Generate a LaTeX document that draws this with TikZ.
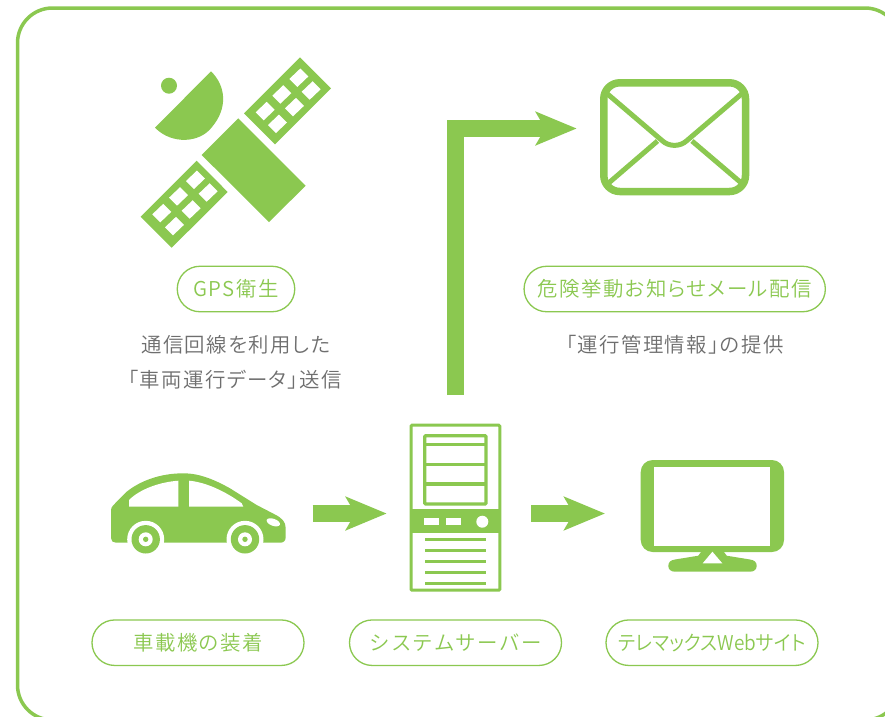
\documentclass[tikz,border=0pt]{standalone}
\usepackage{fontspec}
\usetikzlibrary{arrows.meta}
\newfontfamily\jpfont[RawFeature=+palt,LetterSpace=7]{Noto Sans CJK JP DemiLight}
\newfontfamily\jpwide[LetterSpace=7]{Noto Sans CJK JP DemiLight}
\newfontfamily\jptight[RawFeature=+palt,LetterSpace=0]{Noto Sans CJK JP DemiLight}
\definecolor{lime}{HTML}{8BC850}
\definecolor{greytext}{HTML}{6E6E6E}
\newcommand{\panelwin}[2]{\fill[white] (#1,#2) -- ++(11,-10.5) -- ++(8,8) -- ++(-11,10.5) -- cycle;}
\tikzset{
  pill/.style={draw=lime,line width=1.3pt,rounded corners=22.7pt,minimum height=45.5pt,inner sep=0pt,text=lime,font=\jpfont\fontsize{20.4}{24}\selectfont},
  caption/.style={inner sep=0pt,text=greytext,font=\jpfont\fontsize{20.4}{24}\selectfont},
  bigarrow/.style={draw=lime,line width=16.5pt,-{Stealth[length=40.7pt,width=33pt,inset=9.2pt]}},
  icon/.style={fill=lime,draw=none},
  iconline/.style={draw=lime,line width=3.3pt}
}
\begin{document}
\begin{tikzpicture}[x=1pt,y=-1pt]
\useasboundingbox (0,0) rectangle (885,716);
\fill[white] (0,0) rectangle (885,716);
\begin{scope}
\clip (0,0) rectangle (885,716);
\draw[lime,line width=3.5pt,rounded corners=35pt] (17.5,8) rectangle (900,720);
\end{scope}

% satellite
\fill[icon] (238.3,118.3) -- (305.7,185.7) -- (269,222) -- (201.7,155) -- cycle;
\fill[icon] (300,57.3) -- (331,88.3) -- (275,144.3) -- (244,113.3) -- cycle;
\fill[icon] (196.7,160.7) -- (227.7,192) -- (171.7,247.7) -- (140.7,216.7) -- cycle;
\panelwin{255.7}{112.3}\panelwin{272.3}{95.7}\panelwin{289.3}{79}
\panelwin{268}{125}\panelwin{285}{108.3}\panelwin{301.7}{91.7}
\panelwin{152.3}{214.3}\panelwin{169}{197.7}\panelwin{186}{181}
\panelwin{165}{227.3}\panelwin{181.7}{210.7}\panelwin{198.7}{193.7}
\fill[icon] (155,127.7) .. controls (172,145) and (200,143) .. (212,127) .. controls (228,108) and (226,86) .. (211,71.3) -- cycle;
\fill[icon] (169,85.7) circle[radius=8];

% envelope
\draw[lime,line width=7.5pt,rounded corners=16pt] (603.8,82.8) rectangle (745.5,191.5);
\draw[lime,line width=5pt] (606.7,93.3) -- (662,140.5) .. controls (669,147) and (680,147) .. (687,140.5) -- (742.3,93.3);
\draw[lime,line width=5pt] (608.3,183.3) -- (657.5,141);
\draw[lime,line width=5pt] (692,141) -- (741.7,183.3);

% car
\fill[icon] (116,542.7) .. controls (113,542.7) and (111,541) .. (111,538) -- (111,511) .. controls (111,508.5) and (111.5,507) .. (113,505.5) -- (126.7,491.7) .. controls (140,481) and (160,473.3) .. (183.3,473.3) .. controls (200,473.3) and (215,480) .. (230,488.3) -- (256.7,505) -- (275,514.5) .. controls (282,518) and (285.7,522) .. (285.7,528) -- (285.7,537) .. controls (285.7,541) and (283.5,542.7) .. (280,542.7) -- cycle;
\fill[white] (129,506.7) -- (178.3,506.7) -- (178.3,480.7) .. controls (160,482) and (140,489) .. (129,500) -- cycle;
\fill[white] (189,506.7) -- (243.3,506.7) -- (241.7,503.3) .. controls (225,491) and (205,482) .. (189,480.7) -- cycle;
\fill[white,rotate around={-20:(273.3,522.3)}] (273.3,522.3) circle[x radius=7,y radius=3.5];
\foreach \cx in {145.7,245}{
  \fill[white] (\cx,539.3) circle[radius=18.5];
  \fill[icon] (\cx,539.3) circle[radius=14.2];
  \fill[white] (\cx,539.3) circle[radius=7];
  \fill[icon] (\cx,539.3) circle[radius=2.7];
}

% server
\draw[lime,line width=3pt,rounded corners=1pt] (411,425.2) rectangle (499.8,590.2);
\draw[lime,line width=3.3pt,rounded corners=1pt] (424.7,435.7) rectangle (486,504);
\foreach \ly in {444.7,464.3,484}{\draw[iconline] (424.7,\ly) -- (486,\ly);}
\fill[icon] (410,509.3) rectangle (501,533.3);
\fill[white] (424,518.3) rectangle (439,525);
\fill[white] (446,518.3) rectangle (461,525);
\fill[white] (482.3,521.7) circle[radius=6];
\foreach \ly in {539.3,550.3,561.3,572.3,583.3}{\draw[iconline] (425,\ly) -- (486,\ly);}

% monitor
\fill[icon,rounded corners=12pt] (640.7,460) rectangle (784,552);
\fill[white] (654,467) rectangle (770,546);
\fill[icon] (701.7,551) -- (698.3,555.7) -- (675,559.5) .. controls (671,560) and (668.3,562) .. (668.3,565.8) .. controls (668.3,569.5) and (671,571.7) .. (675,571.7) -- (750,571.7) .. controls (754,571.7) and (756.7,569.5) .. (756.7,565.8) .. controls (756.7,562) and (754,560) .. (750,559.5) -- (726.7,555.7) -- (723.3,551) -- cycle;
\fill[white] (712.4,551.7) -- (722.3,563.3) -- (702.7,563.3) -- cycle;

% arrows
\coordinate (carout) at (312.7,513.5);
\coordinate (srvin) at (386.7,513.5);
\coordinate (srvout) at (531.3,513.5);
\coordinate (webin) at (605,513.5);
\coordinate (srvup) at (455.5,395);
\coordinate (mailin) at (576.7,128.5);
\draw[bigarrow] (carout) -- (srvin);
\draw[bigarrow] (srvout) -- (webin);
\draw[bigarrow] (srvup) |- (mailin);

% labels
\node[pill,minimum width=117.5pt] (gps) at (236,289) {GPS衛生};
\node[pill,minimum width=301.3pt] (mail) at (674.7,289) {危険挙動お知らせメール配信};
\node[pill,minimum width=212pt] (car) at (198,642.7) {車載機の装着};
\node[pill,minimum width=212pt] (server) at (455.5,642.7) {\jpwide\fontsize{20.4}{24}\selectfont システムサーバー};
\node[pill,minimum width=212pt] (web) at (712,642.7) {\scalebox{.93}[1]{\jptight\fontsize{20.4}{24}\selectfont テレマックスWebサイト}};
\node[caption] (cap1) at (236,345) {通信回線を利用した};
\node[caption] (cap2) at (235,380) {「車両運行データ」送信};
\node[caption] (cap3) at (674.7,345) {「運行管理情報」の提供};
\end{tikzpicture}
\end{document}
